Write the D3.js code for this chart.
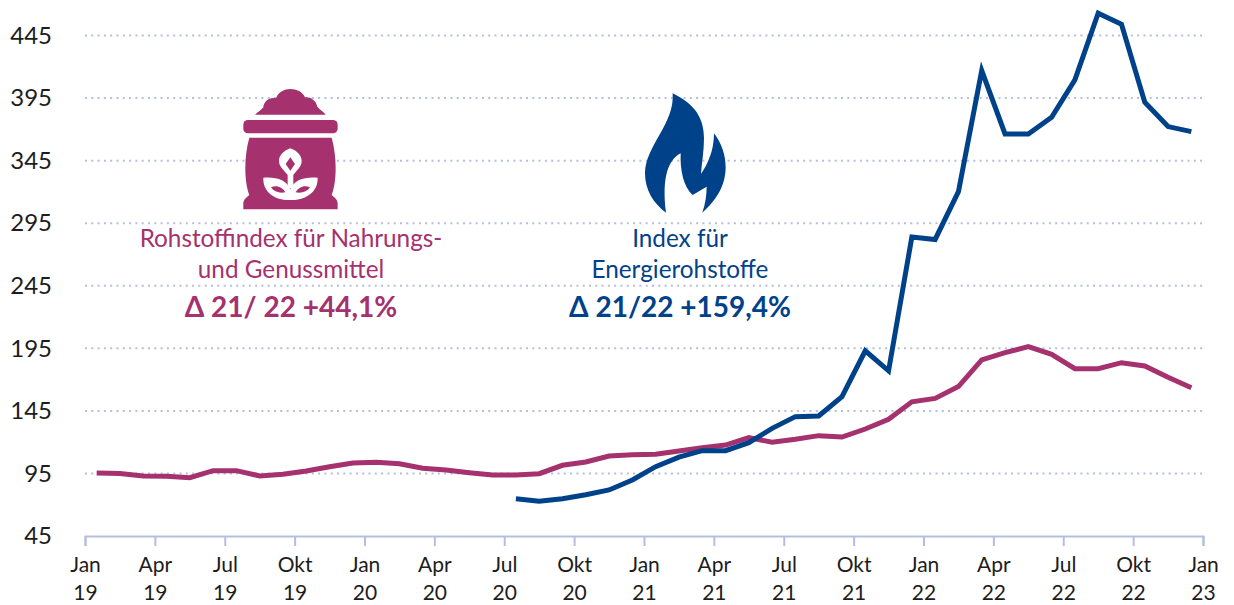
<!DOCTYPE html>
<html>
<head>
<meta charset="utf-8">
<script src="https://cdn.jsdelivr.net/npm/d3@7"></script>
<style>
  html, body { margin: 0; padding: 0; background: #fff; }
  svg { display: block; }
  text { font-family: Lato, sans-serif; }
</style>
</head>
<body>
<svg width="1234" height="605"></svg>
<script>
const months = d3.range(48);
const monthLabels = ["Jan", "Apr", "Jul", "Okt"];
const yTicks = [45, 95, 145, 195, 245, 295, 345, 395, 445];

const food = [95.4, 95, 93, 92.7, 91.6, 97.2, 97.2, 93, 94.3, 97, 100.4, 103.4,
              103.9, 102.8, 99.1, 97.8, 95.6, 93.8, 93.8, 94.8, 101.5, 104.2, 108.9, 110,
              110.3, 113, 115.6, 117.7, 123.6, 119.9, 122.3, 125.2, 124.1, 130.5, 138.3, 152.2,
              155, 164.4, 185.7, 191.5, 196.3, 190.2, 178.7, 178.7, 183.5, 180.9, 171.9, 163.5];

const energy = [null, null, null, null, null, null, null, null, null, null, null, null,
                null, null, null, null, null, null, 74.8, 72.7, 74.8, 78, 81.8, 89.8,
                100.4, 108, 113.2, 113.2, 119.6, 131, 140.4, 140.9, 156.3, 193, 177, 284,
                282, 320.2, 417, 366.3, 366.3, 379.7, 409.5, 462.8, 454, 391.7, 372.2, 368.2];

const PINK = "#a5316e", BLUE = "#00428a", GRID = "#b6bedf", INK = "#1d1d1b";

const svg = d3.select("svg");
const x = d3.scaleLinear().domain([0, 48]).range([85, 1203]);
const y = d3.scaleLinear().domain([45, 445]).range([536, 35.5]);

// gridlines
svg.append("g")
   .selectAll("line")
   .data(yTicks.slice(1))
   .enter().append("line")
   .attr("x1", 85)
   .attr("x2", 1205)
   .attr("y1", d => y(d))
   .attr("y2", d => y(d))
   .attr("stroke", GRID)
   .attr("stroke-width", 2)
   .attr("stroke-dasharray", "2 4.3");

// y axis, labels only
const yAxis = svg.append("g")
   .attr("transform", "translate(52,0)")
   .call(d3.axisLeft(y).tickValues(yTicks).tickSize(0).tickPadding(0));
yAxis.select(".domain").remove();
yAxis.selectAll("text")
   .attr("font-size", 24)
   .attr("fill", INK)
   .style("font-family", "Lato, sans-serif");

// x axis, ticks on every third month
const xTicks = d3.range(0, 49, 3);
const xAxis = svg.append("g")
   .attr("transform", "translate(0,536)")
   .call(d3.axisBottom(x).tickValues(xTicks).tickSize(10).tickFormat(""));
xAxis.select(".domain")
   .attr("stroke", GRID)
   .attr("stroke-width", 2);
xAxis.selectAll("line")
   .attr("stroke", GRID)
   .attr("stroke-width", 2);
xAxis.selectAll(".tick text").remove();
const labels = xAxis.selectAll(".tick")
   .append("text")
   .attr("text-anchor", "middle")
   .attr("font-size", 21)
   .attr("fill", INK)
   .style("font-family", "Lato, sans-serif");
labels.append("tspan")
   .attr("x", 0)
   .attr("y", 36)
   .text(d => monthLabels[(d % 12) / 3]);
labels.append("tspan")
   .attr("x", 0)
   .attr("y", 64)
   .text(d => 19 + Math.floor(d / 12));

// the two index lines
const line = d3.line()
   .defined(d => d[1] !== null)
   .x(d => x(d[0] + 0.5))
   .y(d => y(d[1]));

svg.append("path")
   .datum(months.map(i => [i, food[i]]))
   .attr("fill", "none")
   .attr("stroke", PINK)
   .attr("stroke-width", 5)
   .attr("d", line);

svg.append("path")
   .datum(months.map(i => [i, energy[i]]))
   .attr("fill", "none")
   .attr("stroke", BLUE)
   .attr("stroke-width", 5)
   .attr("d", line);

// sack icon
const sack = svg.append("g").attr("transform", "translate(130,80) scale(0.3333)");
sack.append("path").attr("fill", PINK)
   .attr("d", "M375,104 C385,95 395,90 400,82 C402,62 420,50 438,55 C445,35 465,27 480,27 C500,27 518,35 525,52 C540,50 558,60 562,80 C570,90 582,95 587,104 Z");
sack.append("rect").attr("fill", PINK)
   .attr("x", 340).attr("y", 120).attr("width", 283).attr("height", 40).attr("rx", 14);
sack.append("path").attr("fill", PINK)
   .attr("d", "M358,173 L605,173 C620,225 622,300 605,345 C612,352 623,358 623,370 L623,388 L340,388 L340,370 C340,358 351,352 358,345 C341,300 343,225 358,173 Z");
sack.append("path").attr("fill", "#fff")
   .attr("d", "M481,205 C500,212 515,225 515,243 C515,262 498,272 490,285 L490,325 L473,325 L473,285 C465,272 447,262 447,243 C447,225 462,212 481,205 Z");
sack.append("path").attr("fill", "#fff")
   .attr("d", "M400,293 C440,290 470,300 481,328 C492,300 522,290 563,293 C565,340 520,362 481,360 C440,362 398,340 400,293 Z");
sack.append("path").attr("fill", PINK)
   .attr("d", "M481,232 L495,252 L481,272 L467,252 Z");
sack.append("path").attr("fill", PINK)
   .attr("d", "M423,322 C440,314 458,322 466,337 C448,340 432,336 423,322 Z");
sack.append("path").attr("fill", PINK)
   .attr("d", "M540,322 C523,314 505,322 497,337 C515,340 531,336 540,322 Z");

// flame icon
svg.append("g").attr("transform", "translate(560,80) scale(0.3333)")
   .append("path").attr("fill", BLUE)
   .attr("d", "M338,40 C400,70 432,110 432,175 C432,215 425,250 423,282 C445,250 462,210 462,160 C485,190 497,225 497,262 C497,320 465,365 427,398 C436,372 440,345 440,320 L398,345 C370,320 360,270 362,220 C325,240 305,290 318,398 C280,370 255,330 255,280 C255,200 345,130 338,40 Z");

// annotations
function note(cx, color, lines, delta) {
  const t = svg.append("g").attr("text-anchor", "middle").attr("fill", color);
  lines.forEach((s, i) => {
    t.append("text").attr("x", cx).attr("y", 247 + i * 31).attr("font-size", 24.3).text(s);
  });
  t.append("text").attr("x", cx).attr("y", 317).attr("font-size", 28)
   .attr("font-weight", 700).text(delta);
}
note(291, PINK, ["Rohstoffindex für Nahrungs-", "und Genussmittel"], "Δ 21/ 22 +44,1%");
note(680, BLUE, ["Index für", "Energierohstoffe"], "Δ 21/22 +159,4%");
</script>
</body>
</html>
